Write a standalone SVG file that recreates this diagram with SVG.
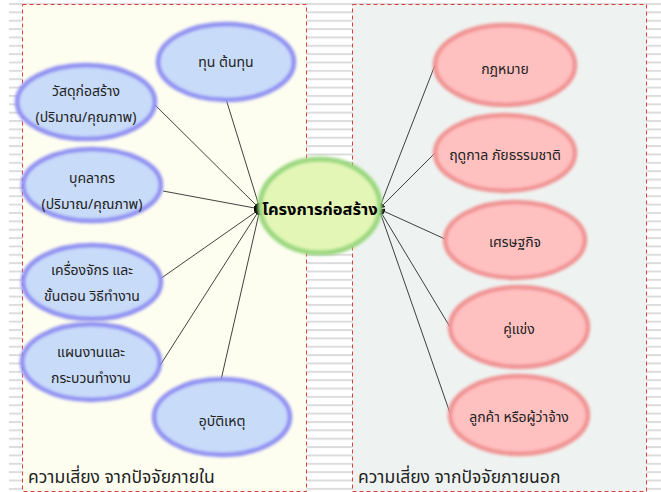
<svg xmlns="http://www.w3.org/2000/svg" width="661" height="492" viewBox="0 0 661 492">
<defs>
<pattern id="stripes" patternUnits="userSpaceOnUse" x="0" y="3" width="661" height="8.36">
<rect x="0" y="0" width="661" height="2" fill="#dcdcdc"/>
</pattern>
<filter id="glow" x="-20%" y="-20%" width="140%" height="140%">
<feGaussianBlur stdDeviation="1.8"/>
</filter>
<marker id="arr" viewBox="0 0 10 10" refX="10" refY="5" markerWidth="6" markerHeight="6" orient="auto" markerUnits="userSpaceOnUse">
<path d="M0,0 L10,5 L0,10 z" fill="#000"/>
</marker>
<style>
text{font-family:Tahoma,"Noto Sans Thai","Loma","Garuda","DejaVu Sans",sans-serif;fill:#222;font-size:14px;text-anchor:middle}
.blue .fill{fill:#c8dbf9}
.blue .ring{fill:none;stroke:#8e8ef2;stroke-width:4.5;filter:url(#glow)}
.pink .fill{fill:#ffc0c0}
.pink .ring{fill:none;stroke:#f09292;stroke-width:4.5;filter:url(#glow)}
.green .fill{fill:#e3f6b6}
.green .ring{fill:none;stroke:#9ad77e;stroke-width:5;filter:url(#glow)}
.panel{stroke:#d94040;stroke-width:1;stroke-dasharray:4,3}
.cap{text-anchor:start;font-size:17.5px}
#connectors line{stroke:#111;stroke-width:0.8;marker-end:url(#arr)}
</style>
</defs>
<rect x="0" y="0" width="661" height="492" fill="#fff"/>
<rect x="9" y="0" width="652" height="492" fill="url(#stripes)"/>
<g id="panel-internal">
<rect class="panel" x="22.5" y="4.5" width="284" height="487" fill="#fefef0"/>
<text class="cap" x="28" y="483">ความเสี่ยง จากปัจจัยภายใน</text>
</g>
<g id="panel-external">
<rect class="panel" x="352.5" y="4.5" width="294" height="487" fill="#eef3f1"/>
<text class="cap" x="358" y="483">ความเสี่ยง จากปัจจัยภายนอก</text>
</g>
<g id="connectors">
<line x1="226" y1="99" x2="260" y2="209"/>
<line x1="152" y1="102" x2="260" y2="209"/>
<line x1="163" y1="191" x2="260" y2="209"/>
<line x1="160" y1="279" x2="260" y2="209"/>
<line x1="159" y1="367" x2="260" y2="209"/>
<line x1="221" y1="380" x2="260" y2="209"/>
<line x1="435" y1="65" x2="379" y2="209"/>
<line x1="435" y1="153" x2="379" y2="209"/>
<line x1="445" y1="239" x2="379" y2="209"/>
<line x1="450" y1="327" x2="379" y2="209"/>
<line x1="450" y1="413" x2="379" y2="209"/>
</g>
<g id="n-tun" class="blue">
<ellipse class="fill" cx="226" cy="62" rx="68" ry="38"/>
<ellipse class="ring" cx="226" cy="62" rx="68" ry="38"/>
<text x="226" y="67">ทุน ต้นทุน</text>
</g>
<g id="n-material" class="blue">
<ellipse class="fill" cx="86" cy="102" rx="69" ry="37"/>
<ellipse class="ring" cx="86" cy="102" rx="69" ry="37"/>
<text x="86" y="96">วัสดุก่อสร้าง</text>
<text x="86" y="122">(ปริมาณ/คุณภาพ)</text>
</g>
<g id="n-personnel" class="blue">
<ellipse class="fill" cx="92" cy="185" rx="69" ry="36"/>
<ellipse class="ring" cx="92" cy="185" rx="69" ry="36"/>
<text x="92" y="183">บุคลากร</text>
<text x="92" y="209">(ปริมาณ/คุณภาพ)</text>
</g>
<g id="n-machine" class="blue">
<ellipse class="fill" cx="92" cy="282" rx="69" ry="37"/>
<ellipse class="ring" cx="92" cy="282" rx="69" ry="37"/>
<text x="92" y="275">เครื่องจักร และ</text>
<text x="92" y="301">ขั้นตอน วิธีทำงาน</text>
</g>
<g id="n-plan" class="blue">
<ellipse class="fill" cx="91" cy="362" rx="69" ry="38"/>
<ellipse class="ring" cx="91" cy="362" rx="69" ry="38"/>
<text x="91" y="357">แผนงานและ</text>
<text x="91" y="383">กระบวนทำงาน</text>
</g>
<g id="n-accident" class="blue">
<ellipse class="fill" cx="222" cy="417" rx="68" ry="38"/>
<ellipse class="ring" cx="222" cy="417" rx="68" ry="38"/>
<text x="222" y="426">อุบัติเหตุ</text>
</g>
<g id="n-project" class="green">
<ellipse class="fill" cx="320" cy="206" rx="60" ry="47"/>
<ellipse class="ring" cx="320" cy="206" rx="60" ry="47"/>
<text x="320" y="215" style="font-weight:bold;font-size:16.5px;fill:#000">โครงการก่อสร้าง</text>
</g>
<g id="n-law" class="pink">
<ellipse class="fill" cx="505" cy="65" rx="70" ry="40"/>
<ellipse class="ring" cx="505" cy="65" rx="70" ry="40"/>
<text x="505" y="74">กฎหมาย</text>
</g>
<g id="n-season" class="pink">
<ellipse class="fill" cx="505" cy="153" rx="70" ry="38"/>
<ellipse class="ring" cx="505" cy="153" rx="70" ry="38"/>
<text x="505" y="160">ฤดูกาล ภัยธรรมชาติ</text>
</g>
<g id="n-economy" class="pink">
<ellipse class="fill" cx="515" cy="240" rx="70" ry="38"/>
<ellipse class="ring" cx="515" cy="240" rx="70" ry="38"/>
<text x="515" y="247">เศรษฐกิจ</text>
</g>
<g id="n-competitor" class="pink">
<ellipse class="fill" cx="519" cy="327" rx="69" ry="40"/>
<ellipse class="ring" cx="519" cy="327" rx="69" ry="40"/>
<text x="519" y="334">คู่แข่ง</text>
</g>
<g id="n-customer" class="pink">
<ellipse class="fill" cx="519" cy="415" rx="69" ry="39"/>
<ellipse class="ring" cx="519" cy="415" rx="69" ry="39"/>
<text x="519" y="422">ลูกค้า หรือผู้ว่าจ้าง</text>
</g>
</svg>
